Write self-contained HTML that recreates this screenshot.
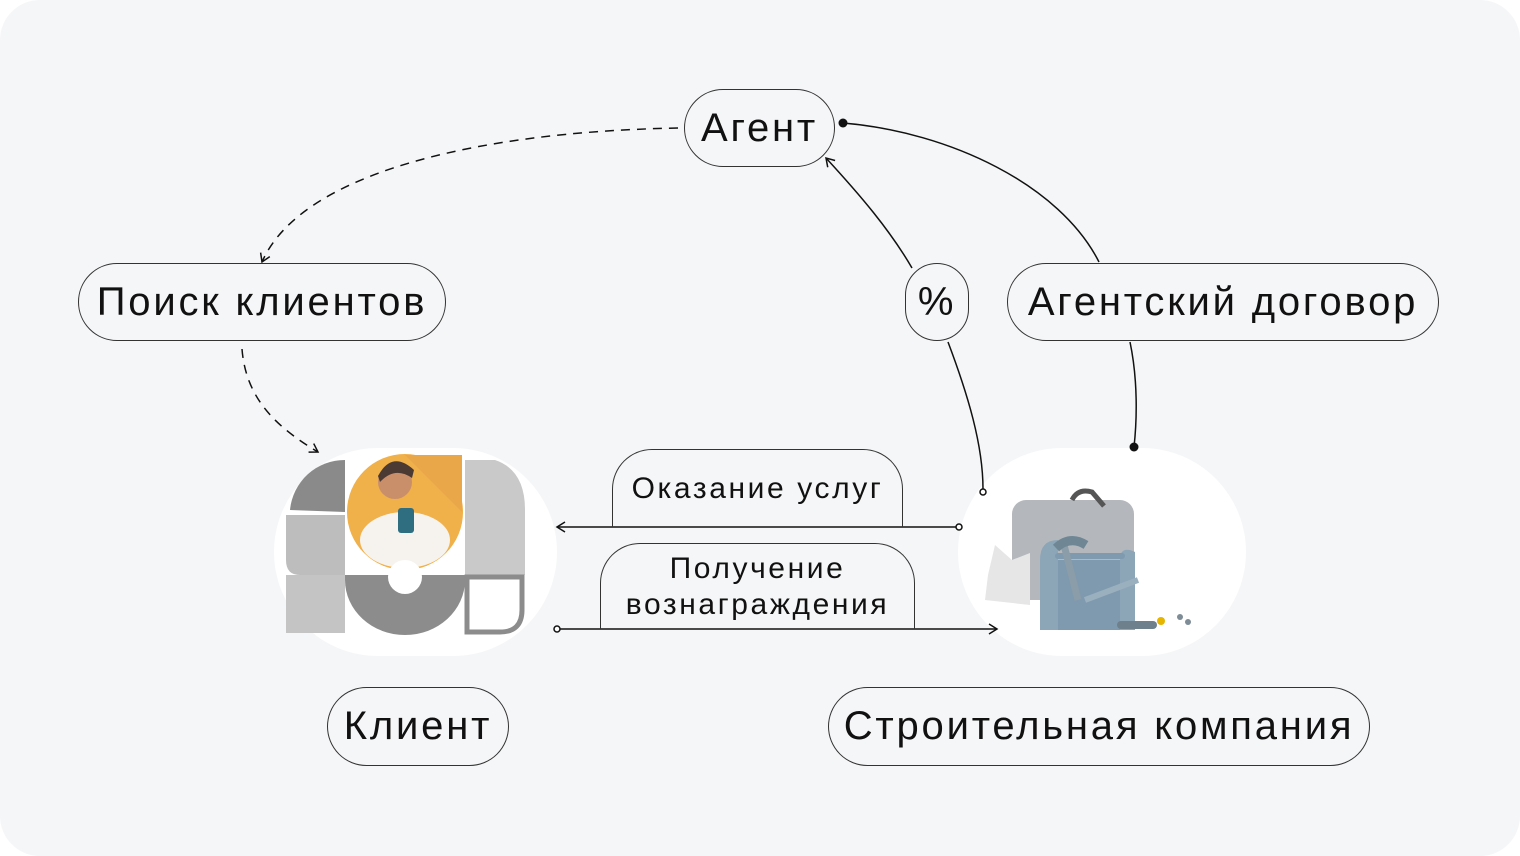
<!DOCTYPE html>
<html><head><meta charset="utf-8"><style>
html,body{margin:0;padding:0;background:#fff;}
.wrap{position:relative;width:1520px;height:856px;background:#f5f6f8;border-radius:40px;overflow:hidden;font-family:"Liberation Sans",sans-serif;color:#111;}
.pill{position:absolute;box-sizing:border-box;border:1.3px solid #333;border-radius:40px;display:flex;align-items:center;justify-content:center;font-size:40px;letter-spacing:2.8px;white-space:nowrap;}
.tab{position:absolute;box-sizing:border-box;border:1.3px solid #333;border-bottom:none;border-radius:40px 40px 0 0;display:flex;align-items:center;justify-content:center;font-size:30px;text-align:center;line-height:36px;letter-spacing:2.6px;}
svg{position:absolute;left:0;top:0;}
</style></head><body><div class="wrap">
<svg width="1520" height="856">
<defs>
<marker id="ar" markerWidth="12" markerHeight="12" refX="10" refY="6" orient="auto" markerUnits="userSpaceOnUse"><path d="M2 1 L10 6 L2 11" fill="none" stroke="#111" stroke-width="1.5"/></marker>
</defs>
<rect x="274" y="448" width="283" height="208" rx="104" fill="#fff"/>
<rect x="958" y="448" width="288" height="208" rx="104" fill="#fff"/>
<path d="M290 510 A55 55 0 0 1 345 460 L345 512 Z" fill="#8a8a8a"/>
<path d="M286 515 L345 515 L345 575 L300 575 Q286 575 286 560 Z" fill="#bdbdbd"/>
<rect x="286" y="575" width="59" height="58" fill="#c4c4c4"/>
<circle cx="405" cy="512" r="58" fill="#f0b04a"/>
<path d="M405 455 L462 455 L462 512 Z" fill="#eaa74a"/>
<ellipse cx="405" cy="540" rx="45" ry="28" fill="#f6f3ef"/>
<circle cx="395" cy="482" r="17" fill="#c98f6b"/>
<path d="M378 476 Q392 450 414 470 L412 478 Q395 466 380 482 Z" fill="#4a3a33"/>
<rect x="398" y="508" width="16" height="25" rx="3" fill="#2e6e80"/>
<path d="M345 575 L465 575 L465 580 A60 55 0 0 1 345 580 Z" fill="#8c8c8c"/>
<circle cx="405" cy="577" r="17" fill="#fff"/>
<path d="M465 460 L495 460 Q525 470 525 510 L525 575 L465 575 Z" fill="#c9c9c9"/>
<path d="M467 577 L522 577 L522 610 Q522 632 500 632 L467 632 Z" fill="#fff" stroke="#8c8c8c" stroke-width="5"/>
<rect x="1012" y="500" width="122" height="100" rx="14" fill="#b4b8bd"/>
<path d="M1072 500 Q1078 488 1092 492 L1104 506" fill="none" stroke="#555" stroke-width="5"/>
<path d="M988 575 L995 545 L1012 560 L1030 553 L1030 605 L985 600 Z" fill="#e6e6e6"/>
<rect x="1040" y="560" width="95" height="70" rx="6" fill="#7f9aae"/>
<path d="M1040 560 Q1040 540 1058 540 L1058 630 L1040 630 Z" fill="#8ca6b8"/>
<path d="M1120 560 Q1120 545 1135 552 L1135 630 L1120 630 Z" fill="#8ca6b8"/>
<rect x="1055" y="553" width="70" height="6" rx="3" fill="#7f9aae"/>
<path d="M1064 545 L1078 600" stroke="#8a9da9" stroke-width="7"/>
<path d="M1056 548 Q1070 535 1086 545" stroke="#6f8794" stroke-width="9" fill="none"/>
<path d="M1085 600 L1138 580" stroke="#9ab0bf" stroke-width="6"/>
<rect x="1117" y="621" width="40" height="8" rx="4" fill="#6d808c"/>
<circle cx="1161" cy="621" r="4" fill="#e5b500"/>
<circle cx="1180" cy="617" r="3" fill="#7d8c96"/>
<circle cx="1188" cy="622" r="3" fill="#7d8c96"/>
<path d="M678 128 C 470 132, 300 175, 262 262" fill="none" stroke="#111" stroke-width="1.5" stroke-dasharray="9 7" marker-end="url(#ar)"/>
<path d="M242 349 C 246 400, 278 428, 318 452" fill="none" stroke="#111" stroke-width="1.5" stroke-dasharray="9 7" marker-end="url(#ar)"/>
<circle cx="843" cy="123" r="4.5" fill="#111"/>
<path d="M843 123 C 950 132, 1060 185, 1099 262" fill="none" stroke="#111" stroke-width="1.5"/>
<path d="M1130 342 C 1138 380, 1137 420, 1134 447" fill="none" stroke="#111" stroke-width="1.5"/>
<circle cx="1134" cy="447" r="4.5" fill="#111"/>
<path d="M912 268 C 890 230, 860 195, 826 158" fill="none" stroke="#111" stroke-width="1.5" marker-end="url(#ar)"/>
<path d="M948 342 C 968 395, 983 445, 983 489" fill="none" stroke="#111" stroke-width="1.5"/>
<circle cx="983" cy="492" r="3" fill="#fff" stroke="#111" stroke-width="1.5"/>
<path d="M956 527 L557 527" fill="none" stroke="#111" stroke-width="1.5" marker-end="url(#ar)"/>
<circle cx="959" cy="527" r="3" fill="#fff" stroke="#111" stroke-width="1.5"/>
<path d="M560 629 L997 629" fill="none" stroke="#111" stroke-width="1.5" marker-end="url(#ar)"/>
<circle cx="557" cy="629" r="3" fill="#fff" stroke="#111" stroke-width="1.5"/>
</svg>
<div class="pill" style="left:684px;top:89px;width:151px;height:78px;">Агент</div>
<div class="pill" style="left:78px;top:263px;width:368px;height:78px;">Поиск клиентов</div>
<div class="pill" style="left:905px;top:263px;width:64px;height:78px;">%</div>
<div class="pill" style="left:1007px;top:263px;width:432px;height:78px;">Агентский договор</div>
<div class="pill" style="left:327px;top:687px;width:182px;height:79px;">Клиент</div>
<div class="pill" style="left:828px;top:687px;width:542px;height:79px;">Строительная компания</div>
<div class="tab" style="left:612px;top:449px;width:291px;height:78px;">Оказание услуг</div>
<div class="tab" style="left:600px;top:543px;width:315px;height:86px;">Получение<br>вознаграждения</div>
</div></body></html>
